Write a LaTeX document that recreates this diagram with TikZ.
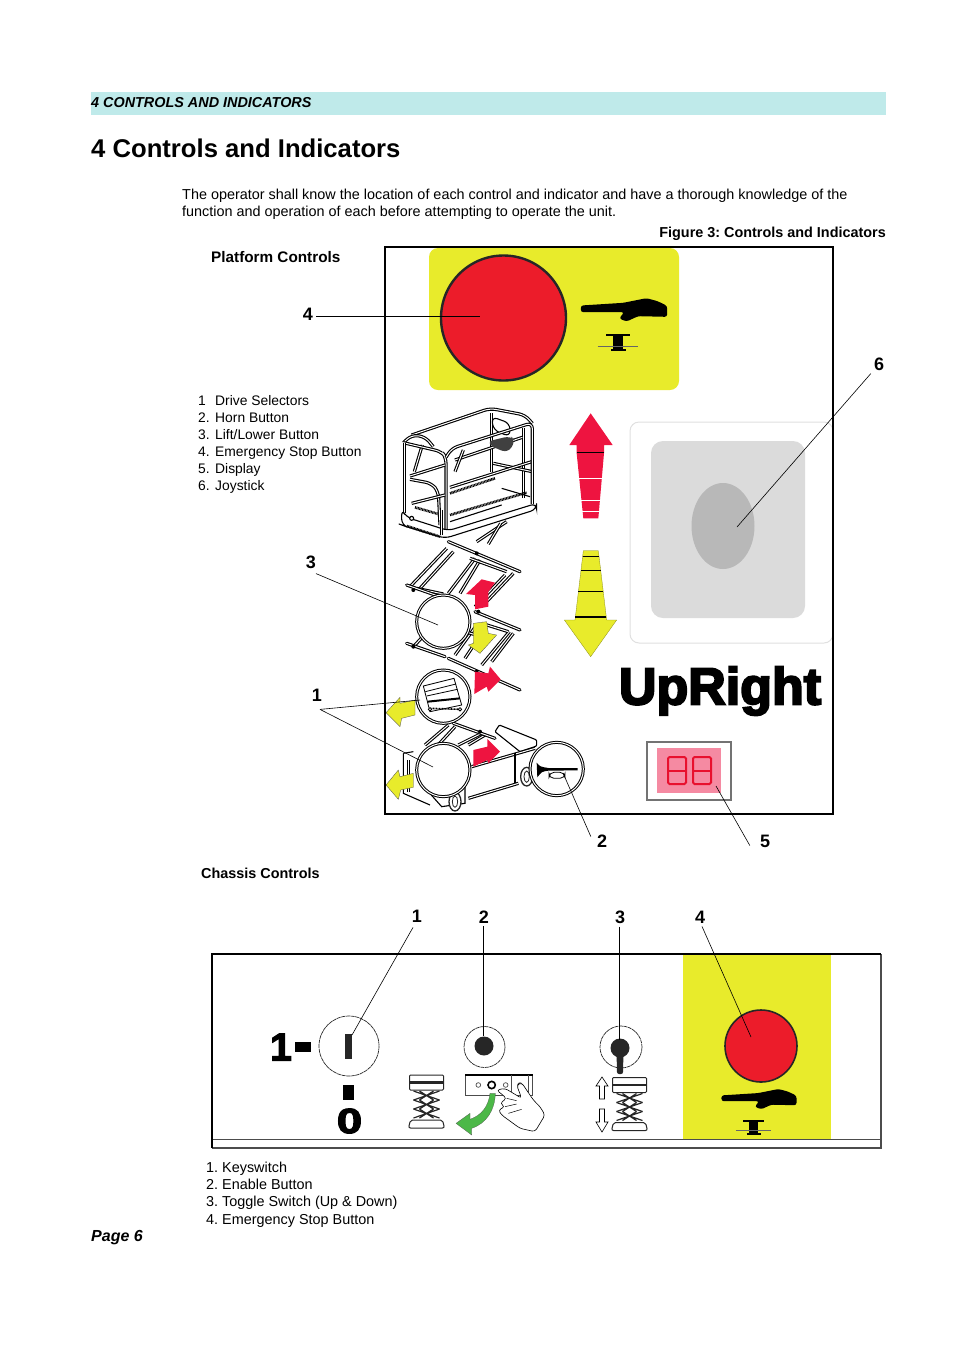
\documentclass[tikz,border=0pt]{standalone}
\usepackage{fontspec}
\setmainfont{Liberation Sans}
\newfontfamily\logofont[FakeBold=4]{Liberation Sans Bold}
\newfontfamily\signfont[FakeBold=3]{Liberation Sans Bold}
\definecolor{bandcyan}{HTML}{BFEAEA}
\definecolor{signyellow}{HTML}{E8EB2B}
\definecolor{stopred}{HTML}{EC1C2A}
\definecolor{liftred}{HTML}{EE1440}
\definecolor{dark}{HTML}{262626}
\definecolor{lcdpink}{HTML}{F58AA2}
\definecolor{lcdred}{HTML}{E8102E}
\definecolor{backgreen}{HTML}{4CB848}
\tikzset{
    pics/handsign/.style={code={
        \fill[black, rounded corners=2.5pt] (-2,-9) -- (125,-17) -- (195,-31) -- (228,-22) -- (257,-8) -- (257,25) -- (170,23)
            -- (135,39) -- (113,30) -- (128,11) -- (-2,11) -- cycle;
        \fill[black] (73,75) rectangle (145,83);
        \fill[black] (93,83) rectangle (125,125);
        \fill[black] (87,122) rectangle (133,128);
        \draw[black!60, line width=.6pt] (48,112) -- (170,112);
    }},
    pics/liftsign/.style={code={
        \draw[dark, line width=1pt, rounded corners=1pt] (0,0) rectangle (34,15);
        \fill[dark] (0,6) rectangle (34,8.5);
        \foreach \y in {16,25,34}
          \draw[dark, line width=1.2pt] (4,\y) -- (30,\y+9) (30,\y) -- (4,\y+9)
            (10,\y) -- (24,\y+9) (24,\y) -- (10,\y+9);
        \draw[dark, line width=1pt, rounded corners=2pt] (1,45) -- (33,45) -- (35,53) -- (-1,53) -- cycle;
    }}
}
\begin{document}
\frenchspacing
\begin{tikzpicture}[
    x=1pt, y=-1pt,
    txt/.style={anchor=base west, inner sep=0pt, font=\fontsize{14.4}{17}\selectfont},
    head/.style={txt, font=\fontsize{14.4}{17}\selectfont\bfseries},
    num/.style={inner sep=3pt, font=\fontsize{18}{18}\selectfont\bfseries},
    lead/.style={draw=black, line width=.6pt},
    box/.style={draw=black, line width=1.3pt},
    rail/.style={draw=black, line width=1.1pt},
    tube/.style={draw=black, line width=1.1pt, double=white, double distance=1pt},
    hatch/.style={draw=black, line width=2.6pt, dash pattern=on .9pt off .6pt},
    ring/.style={draw=black, line width=1pt, double=white, double distance=1pt, fill=white},
    dial/.style={draw=dark, line width=.7pt, dash pattern=on 4pt off .6pt},
    liftarrow/.style={fill=liftred},
    lowerarrow/.style={fill=signyellow, draw=black!70, line width=.3pt},
    lcdseg/.style={draw=lcdred, line width=2pt, rounded corners=1.5pt}
]
  \useasboundingbox (0,0) rectangle (954,1350);

  % page header
  \fill[bandcyan] (91,92) rectangle (886,115);
  \node[head, font=\fontsize{14.4}{17}\selectfont\bfseries\itshape] (band) at (91,107) {4 CONTROLS AND INDICATORS};
  \node[txt, font=\fontsize{25.65}{30}\selectfont\bfseries] (title) at (91,157) {4 Controls and Indicators};
  \node[txt] (para1) at (182,199) {The operator shall know the location of each control and indicator and have a thorough knowledge of the};
  \node[txt] (para2) at (182,216) {function and operation of each before attempting to operate the unit.};
  \node[head, anchor=base east] (figcap) at (886,237) {Figure 3: Controls and Indicators};
  \node[head, font=\fontsize{15.3}{17}\selectfont\bfseries] (plathead) at (211,262) {Platform Controls};
  \node[head] (chashead) at (201,878) {Chassis Controls};
  \node[head, font=\fontsize{16}{17}\selectfont\bfseries\itshape] (page) at (91,1241) {Page 6};

  \foreach \n/\t [count=\i] in {1/Drive Selectors, 2./Horn Button, 3./{Lift/Lower Button}, 4./Emergency Stop Button, 5./Display, 6./Joystick} {
    \node[txt, font=\fontsize{13.85}{17}\selectfont] (platn\i) at (198,388+17*\i) {\n};
    \node[txt, font=\fontsize{13.85}{17}\selectfont] (platt\i) at (215,388+17*\i) {\t};
  }
  \foreach \t [count=\i] in {Keyswitch, Enable Button, Toggle Switch (Up \& Down), Emergency Stop Button}
    \node[txt] (chas\i) at (206,1155+17.3*\i) {\i. \t};

  % platform panel
  \fill[signyellow, rounded corners=9pt] (429,248) rectangle (679,390);
  \draw[fill=stopred, draw=dark, line width=2.4pt] (503.5,318) circle (62.5);
  \pic[scale=1/3] (platstop) at (581.5,308.5) {handsign};

  % joystick
  \draw[black!12, line width=1pt, fill=white, rounded corners=9pt] (630,422) rectangle (833,643);
  \fill[black!14, rounded corners=12pt] (651,441) rectangle (805,618);
  \fill[black!28] (723,526) ellipse (31.5 and 43);

  % display
  \draw[black!55, line width=1.2pt] (647,742) rectangle (731,800);
  \fill[lcdpink] (657,748) rectangle (721,793);
  \foreach \x in {668,693} {
    \draw[lcdseg] (\x,757) rectangle +(18,27);
    \draw[lcdseg] (\x,770.5) -- +(18,0);
  }
  \node[inner sep=0pt, font=\fontsize{52}{52}\selectfont\logofont] (logo) at (720,691) {UpRight};

  % basket
  \begin{scope}[shift={(395,400)}, scale=1/3, rounded corners=6pt]
    \draw[tube] (290,40) -- (290,215);
    \draw[tube] (385,85) -- (385,295);
    \draw[tube] (50,105) -- (285,25) -- (390,45) -- (412,70);
    \draw[tube] (180,180) -- (382,112);
    \draw[tube] (295,190) -- (412,215);
    \draw[tube] (165,262) -- (410,185);
    \draw[tube] (82,135) -- (58,215);
    \draw[tube] (205,150) -- (180,215);
    \draw[rail] (290,50) -- (345,70) -- (345,110) -- (295,90) -- cycle;
    \fill[black!75] (275,125) -- (345,108) -- (362,120) -- (340,158) -- (300,145) -- cycle;
    \draw[tube] (25,128) -- (50,105) -- (90,110) -- (115,140);
    \draw[tube] (25,128) -- (140,155) -- (153,172) -- (153,400);
    \draw[tube] (153,172) -- (170,145) -- (412,68) -- (412,312);
    \draw[tube] (28,128) -- (28,340);
    \draw[tube] (45,228) -- (150,195);
    \draw[tube] (45,238) -- (110,250) -- (130,275) -- (135,375);
    \draw[tube] (50,310) -- (150,285);
    \draw[hatch, rounded corners=0pt] (165,280) -- (300,235);
    \draw[hatch, rounded corners=0pt] (60,322) -- (130,342);
    \draw[hatch, rounded corners=0pt] (165,345) -- (300,305) -- (395,278);
    \draw[rail] (320,265) -- (405,290) (165,365) -- (320,315);
    \draw[rail, fill=white] (20,328) -- (20,375) -- (28,378) -- (150,415) -- (425,328) -- (425,310) -- (160,392) -- (35,352) -- cycle;
    \draw[hatch, rounded corners=0pt] (35,378) -- (135,410);
    \draw[rail, fill=white] (50,355) circle (6);
    \draw[tube] (140,330) -- (140,405);
  \end{scope}

  \begin{scope}[shift={(380,390)}, scale=1/3]
    % big arrows
    \fill[liftred] (632,70) -- (698,165) -- (672,165) -- (672,190) -- (655,385) -- (610,385) -- (590,190) -- (590,165) -- (568,165) -- cycle;
    \foreach \y in {265,330,365}
      \draw[white, line width=.8pt] (590,\y) -- (672,\y);
    \draw[black, line width=.7pt] (590,188) -- (672,188);
    \draw[fill=signyellow, draw=signyellow!60!black, line width=.3pt] (610,482) -- (655,482) -- (680,690) -- (710,690) -- (632,800) -- (553,690) -- (585,690) -- cycle;
    \foreach \y/\w in {500/.7,540/.7,605/1.3,682/1.8}
      \draw[black, line width=\w pt] (610-\y*.12+57.84,\y) -- (655+\y*.12-57.84,\y);

    % scissor stack
    \foreach \a/\b/\c/\d in {
        290/455/380/395, 325/462/362/400,
        90/590/200/475, 120/595/220/485, 205/610/285/505, 240/610/300/510, 285/650/375/555, 315/640/400/550,
        110/595/190/612, 270/505/380/545,
        105/765/160/705, 225/795/290/705, 255/805/315/715, 305/825/388/725, 335/815/400/730,
        240/720/320/745, 305/700/385/725,
        135/1065/205/1005, 165/1075/225/1010, 235/1065/305/1030, 265/1065/315/1035}
      \draw[tube] (\a,\b) -- (\c,\d);
    \begin{scope}[line cap=round]
      \draw[tube] (205,455) -- (420,545);
      \draw[tube] (80,585) -- (180,620);
      \draw[tube] (285,665) -- (420,720);
      \draw[tube] (80,760) -- (195,800);
      \draw[tube] (205,805) -- (420,900);
      \draw[tube] (220,1000) -- (345,1045);
    \end{scope}
    \fill foreach \p in {(290,490),(300,1025),(290,845),(100,600),(100,770),(295,665)} {\p circle (6)};

    % chassis
    \draw[rail, fill=white, rounded corners=1pt] (345,1025) -- (358,1005) -- (470,1050) -- (470,1068) -- (420,1085) -- cycle;
    \draw[tube] (275,1130) -- (465,1075);
    \draw[tube] (265,1225) -- (415,1180);
    \draw[rail] (405,1090) -- (405,1180);
    \draw[rail, fill=white] (70,1090) -- (70,1210) -- (150,1245) (70,1090) -- (100,1085);
    \draw[tube] (85,1110) -- (85,1205);
    \draw[rail, fill=white] (145,1205) -- (185,1250) -- (255,1240) -- (255,1190) -- cycle;
    \foreach \x/\y in {440/1160,225/1235}
      \draw[line width=1.3pt, fill=white, draw=dark] (\x,\y) ellipse (18 and 28);
    \foreach \x/\y in {440/1160,225/1235}
      \draw[line width=.8pt, draw=dark] (\x,\y) ellipse (8 and 17);

    % small arrows
    \fill[liftarrow] (258,612) -- (305,568) -- (345,578) -- (325,605) -- (325,650) -- (285,658) -- (285,615) -- cycle;
    \fill[liftarrow] (285,845) -- (325,850) -- (330,830) -- (362,868) -- (325,905) -- (320,890) -- (283,912) -- cycle;
    \fill[liftarrow] (280,1080) -- (322,1070) -- (322,1047) -- (360,1085) -- (325,1120) -- (322,1110) -- (280,1130) -- cycle;
    \path[lowerarrow] (280,700) -- (320,695) -- (325,730) -- (350,735) -- (300,790) -- (265,765) -- (280,760) -- cycle;
    \path[lowerarrow] (105,930) -- (105,975) -- (65,985) -- (60,1010) -- (18,968) -- (60,922) -- (60,940) -- cycle;
    \path[lowerarrow] (100,1150) -- (100,1192) -- (62,1200) -- (55,1228) -- (18,1185) -- (55,1140) -- (60,1160) -- cycle;

    % selector circles
    \foreach \y in {695,920,1140}
      \draw[ring] (190,\y) circle (80);
    \draw[ring] (530,1137) circle (80);
    \begin{scope}[black, line width=.8pt]
      \draw (130,888) -- (222,865) -- (245,945) -- (150,965) -- cycle;
      \draw (136,905) -- (228,882) (140,918) -- (232,898);
      \draw[line width=2pt] (143,935) -- (240,925);
      \draw[hatch, line width=1.6pt] (150,955) -- (245,958);
      \draw[fill=white] (150,958) circle (5) (240,958) circle (5);
    \end{scope}
    \fill[black] (470,1118) .. controls (480,1130) .. (505,1134) -- (593,1134) -- (593,1141) -- (505,1142) .. controls (485,1145) .. (472,1162) -- cycle;
    \draw[black, line width=.8pt, rounded corners=5pt] (507,1147) rectangle (555,1165);
  \end{scope}
  \draw[box] (385,247) rectangle (833,814);

  % chassis panel
  \fill[signyellow] (683,955) rectangle (831,1139);
  \draw[black!70, line width=.9pt] (212,1139) -- (881,1139);
  \draw[black!70, line width=2pt] (212,1148) -- (881,1148) -- (881,954);
  \draw[black, line width=2pt] (881,954) -- (212,954) -- (212,1148);
  \draw[fill=stopred, draw=dark, line width=1.6pt] (761,1046) circle (36);
  \pic[scale=.29] (chasstop) at (722,1098) {handsign};

  % keyswitch
  \draw[dial] (349,1046) circle (30);
  \fill[dark] (344.5,1034) rectangle (351.5,1059);
  \node[inner sep=0pt, font=\fontsize{39}{39}\selectfont\signfont] (keyone) at (281,1047) {1};
  \fill[black] (295,1042) rectangle (311,1052);
  \fill[black] (343,1085) rectangle (354,1100);
  \node[inner sep=0pt, xscale=1.3, transform shape, font=\fontsize{35}{35}\selectfont\signfont] (keyzero) at (349.5,1121) {0};

  % enable button
  \pic (enlift) at (409.5,1075) {liftsign};
  \draw[dial] (484.5,1047) circle (20.5);
  \fill[dark] (484,1046) circle (9.5);
  \begin{scope}[shift={(200,950)}, scale=1/3]
    \draw[black!70, line width=.7pt] (795,375) rectangle (998,435);
    \draw[black, line width=1.1pt] (795,375) -- (998,375);
    \draw[black!70, line width=.7pt] (935,375) -- (935,435) (985,375) -- (985,435);
    \foreach \x in {835,917,960}
      \draw[black!70, line width=.7pt, fill=white] (\x,405) circle (7);
    \draw[black, line width=1.6pt, fill=white] (875,405) circle (11);
    \draw[fill=backgreen, draw=black!70, line width=.2pt] (886,430) .. controls (885,480) and (860,520) .. (815,535)
      -- (815,555) -- (768,520) -- (810,490) -- (810,508) .. controls (845,495) and (865,470) .. (870,430) -- cycle;
    \draw[black, line width=.6pt, fill=white, rounded corners=3pt] (890,420) -- (915,415) -- (965,445) -- (950,405) -- (965,398) -- (1000,450)
      -- (1020,470) -- (1035,495) -- (1005,545) -- (960,535) -- (905,495) -- (895,480) -- (915,470) -- (900,460) -- (920,445) -- cycle;
    \draw[black, line width=.5pt] (915,470) -- (950,462) (920,445) -- (950,452) (925,490) -- (965,478);
  \end{scope}

  % toggle switch
  \pic (tglift) at (612.5,1077.5) {liftsign};
  \draw[dial] (621,1047) circle (21);
  \fill[dark] (620,1048) circle (9.5);
  \fill[dark, rounded corners=2pt] (616.5,1050) -- (623.5,1050) -- (623,1074) -- (617,1074) -- cycle;
  \begin{scope}[black, line width=.6pt]
    \draw (602,1077) -- (608,1086) -- (604.5,1086) -- (604.5,1099) -- (599.5,1099) -- (599.5,1086) -- (596,1086) -- cycle;
    \draw (602,1132) -- (608,1122) -- (604.5,1122) -- (604.5,1109) -- (599.5,1109) -- (599.5,1122) -- (596,1122) -- cycle;
  \end{scope}

  % leaders
  \node[num] (ref4) at (308,314) {4};
  \node[num] (ref6) at (879,364) {6};
  \node[num] (ref3) at (311,562) {3};
  \node[num] (ref1) at (317,695) {1};
  \node[num] (ref2) at (602,841) {2};
  \node[num] (ref5) at (765,841) {5};
  \node[num] (cref1) at (417,916) {1};
  \node[num] (cref2) at (484,917) {2};
  \node[num] (cref3) at (620,917) {3};
  \node[num] (cref4) at (700,917) {4};
  \coordinate (stopend) at (480,316);
  \coordinate (joyend) at (737,527);
  \coordinate (liftend) at (438,625);
  \coordinate (selend1) at (420,700);
  \coordinate (selend2) at (433,767);
  \coordinate (hornend) at (563,773);
  \coordinate (dispend) at (716,786);
  \coordinate (keyend) at (352,1035);
  \coordinate (enend) at (483.5,1036);
  \coordinate (tgend) at (619.5,1040);
  \coordinate (cstopend) at (751,1037);

  \draw[lead] (ref4.east |- stopend) -- (stopend);
  \draw[lead] (ref6.south west) -- (joyend);
  \draw[lead] (ref3.south) ++(5,2) -- (liftend);
  \draw[lead] (ref1.south) ++(3,5) -- (selend1);
  \draw[lead] (ref1.south) ++(3,5) -- (selend2);
  \draw[lead] (ref2.south west) ++(-3,-14) -- (hornend);
  \draw[lead] (ref5.south west) ++(-7,-5) -- (dispend);
  \draw[lead] (cref1.south) ++(-4,2) -- (keyend);
  \draw[lead, line width=.9pt] (enend |- cref2.south) -- (enend);
  \draw[lead, line width=.9pt] (tgend |- cref3.south) -- (tgend);
  \draw[lead] (cref4.south) ++(2,0) -- (cstopend);
\end{tikzpicture}
\end{document}
